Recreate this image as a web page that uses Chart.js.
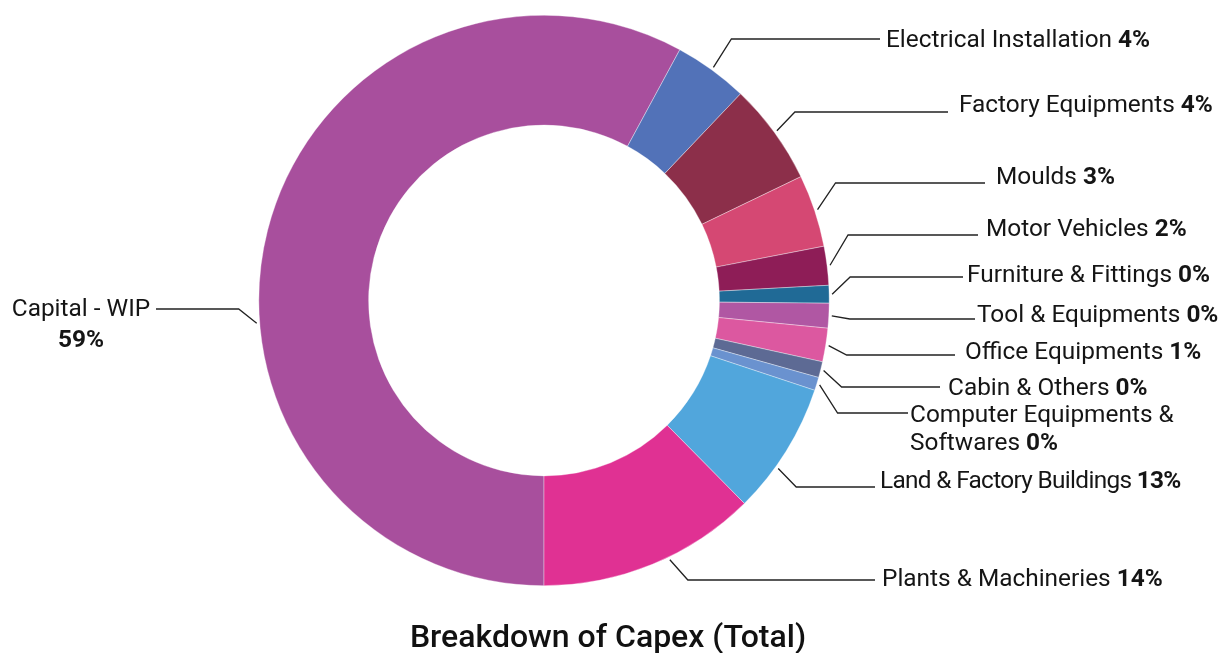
<!DOCTYPE html>
<html>
<head>
<meta charset="utf-8">
<script src="https://cdn.jsdelivr.net/npm/chart.js@4.4.1/dist/chart.umd.min.js"></script>
<style>
  html, body { margin: 0; padding: 0; background: #fff; }
  #wrap { width: 1218px; height: 653px; position: relative; }
</style>
</head>
<body>
<div id="wrap"><canvas id="capexChart" width="1218" height="653"></canvas></div>
<script>
const categories = ['Capital - WIP', 'Electrical Installation', 'Factory Equipments', 'Moulds',
  'Motor Vehicles', 'Furniture & Fittings', 'Tool & Equipments', 'Office Equipments',
  'Cabin & Others', 'Computer Equipments & Softwares', 'Land & Factory Buildings', 'Plants & Machineries'];
// slice sizes as drawn (share of the ring, %)
const shares = [57.9, 4.2, 5.75, 4.1, 2.2, 1.0, 1.4, 1.9, 0.9, 0.75, 7.5, 12.4];
// percentages printed on the labels
const shownPct = [59, 4, 4, 3, 2, 0, 0, 1, 0, 0, 13, 14];
const colors = ['#A84F9D', '#5272B8', '#8C2F4A', '#D54873', '#8E1D57', '#206A96',
  '#B057A3', '#DC58A0', '#5D6A94', '#6A92CF', '#51A6DC', '#E03193'];

// label placement: leader y, leader end x, text x, text y, anchor along slice, words on 1st line
const labelPos = [
  { y: 309, end: 156, tx: 81, ty: 310, anchor: 0.41, split: 3, gap: 31, center: true },
  { y: 39, end: 880, tx: 886, ty: 41 },
  { y: 112, end: 948, tx: 959, ty: 106 },
  { y: 183, end: 985, tx: 996, ty: 178 },
  { y: 235, end: 978, tx: 986, ty: 230 },
  { y: 277, end: 963, tx: 967, ty: 276 },
  { y: 319, end: 975, tx: 977, ty: 316 },
  { y: 355, end: 955, tx: 965, ty: 353 },
  { y: 387, end: 940, tx: 948, ty: 389 },
  { y: 413, end: 908, tx: 910, ty: 416, split: 3, gap: 28 },
  { y: 487, end: 875, tx: 880, ty: 482, anchor: 0.64, spacing: '-0.68px' },
  { y: 580, end: 875, tx: 882, ty: 580, anchor: 0.42 }
];

const FONT = 'Roboto, "Noto Sans", sans-serif';
const SIZE = '24.4px ';

function richWidth(ctx, name, pct) {
  ctx.font = '400 ' + SIZE + FONT;
  let w = name ? ctx.measureText(name + ' ').width : 0;
  ctx.font = '700 ' + SIZE + FONT;
  return w + ctx.measureText(pct).width;
}

function drawRich(ctx, name, pct, x, y) {
  ctx.font = '400 ' + SIZE + FONT;
  let w = 0;
  if (name) {
    ctx.fillText(name + ' ', x, y);
    w = ctx.measureText(name + ' ').width;
  }
  if (pct) {
    ctx.font = '700 ' + SIZE + FONT;
    ctx.fillText(pct, x + w, y);
  }
}

const leaderLabels = {
  id: 'leaderLabels',
  afterDraw(chart) {
    const ctx = chart.ctx;
    const arcs = chart.getDatasetMeta(0).data;
    ctx.save();
    arcs.forEach((arc, i) => {
      const p = arc.getProps(['x', 'y', 'startAngle', 'endAngle', 'outerRadius'], true);
      const lp = labelPos[i];
      const f = lp.anchor ?? 0.5;
      const a = p.startAngle + (p.endAngle - p.startAngle) * f;
      const sx = p.x + Math.cos(a) * (p.outerRadius + 3);
      const sy = p.y + Math.sin(a) * (p.outerRadius + 3);
      const side = Math.cos(a) >= 0 ? 1 : -1;
      const ex = sx + side * 18;
      ctx.strokeStyle = '#222';
      ctx.lineWidth = 1.3;
      ctx.beginPath();
      ctx.moveTo(sx, sy);
      ctx.lineTo(ex, lp.y);
      ctx.lineTo(lp.end, lp.y);
      ctx.stroke();

      const pct = shownPct[i] + '%';
      ctx.fillStyle = '#151515';
      ctx.textBaseline = 'middle';
      ctx.textAlign = 'left';
      ctx.letterSpacing = lp.spacing || '0px';
      const lines = [];
      if (lp.split) {
        const words = categories[i].split(' ');
        lines.push([words.slice(0, lp.split).join(' '), '']);
        lines.push([words.slice(lp.split).join(' '), pct]);
      } else {
        lines.push([categories[i], pct]);
      }
      lines.forEach((ln, k) => {
        const ty = lp.ty + k * (lp.gap || 0);
        let tx = lp.tx;
        if (lp.center) {
          let w;
          if (ln[1]) w = richWidth(ctx, ln[0], ln[1]);
          else { ctx.font = '400 ' + SIZE + FONT; w = ctx.measureText(ln[0]).width; }
          tx = lp.tx - w / 2;
        }
        drawRich(ctx, ln[0], ln[1], tx, ty);
      });
      ctx.letterSpacing = '0px';
    });

    // title
    ctx.font = '500 32px ' + FONT;
    ctx.fillStyle = '#111';
    ctx.textAlign = 'center';
    ctx.textBaseline = 'middle';
    ctx.fillText('Breakdown of Capex (Total)', 608, 639);
    ctx.restore();
  }
};

new Chart(document.getElementById('capexChart'), {
  type: 'doughnut',
  data: {
    labels: categories,
    datasets: [{
      data: shares,
      backgroundColor: colors,
      borderColor: 'rgba(255,255,255,0.6)',
      borderWidth: 0.6,
      hoverOffset: 0
    }]
  },
  options: {
    responsive: false,
    animation: false,
    events: [],
    rotation: 180,
    cutout: '61.5%',
    layout: { padding: { left: 0, right: 130, top: 15, bottom: 67 } },
    plugins: {
      legend: { display: false },
      tooltip: { enabled: false },
      title: { display: false }
    }
  },
  plugins: [leaderLabels]
});
</script>
</body>
</html>
